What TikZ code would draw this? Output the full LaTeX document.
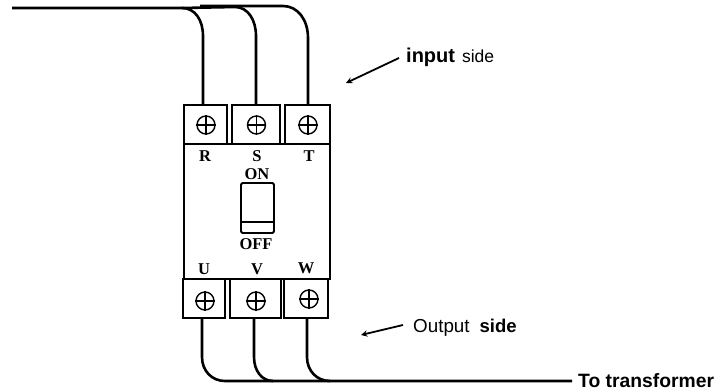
\documentclass[tikz,border=0pt]{standalone}
\usepackage{fontspec}
\setmainfont{Liberation Sans}
\newfontfamily\platefont{Liberation Serif}
\tikzset{
  terminal/.style={draw=black,line width=1.6pt,inner sep=0pt,minimum height=39pt},
  screw/.style={draw=black,circle,line width=1.4pt,inner sep=0pt,minimum size=18pt},
  wire/.style={line width=2.6pt},
  pointer/.style={->,>=stealth,line width=1.8pt},
  plate/.style={font=\platefont\fontsize{16.5}{16.5}\selectfont\bfseries,inner sep=0pt},
  note/.style={inner sep=0pt,anchor=base west}
}
\begin{document}
\begin{tikzpicture}[x=1pt,y=-1pt]
\useasboundingbox (0,0) rectangle (717,390);

% breaker body and switch
\node[draw,line width=1.6pt,minimum width=146pt,minimum height=135pt,inner sep=0pt] (body) at (257,211.5) {};
\node[draw,line width=1.8pt,rounded corners=1.5pt,minimum width=33pt,minimum height=50pt,inner sep=0pt] (switch) at (257.5,208) {};
\coordinate (swl) at (241,222);
\coordinate (swr) at (274,222);
\draw[line width=1.8pt] (swl) -- (swr);

% input terminals
\node[terminal,minimum width=43pt] (termR) at (205.5,124.5) {};
\node[terminal,minimum width=48pt] (termS) at (256,124.5) {};
\node[terminal,minimum width=45pt] (termT) at (307.5,124.5) {};
\node[screw] (screwR) at (206,125) {};
\node[screw] (screwS) at (256.5,125) {};
\node[screw] (screwT) at (308,125) {};

% output terminals
\node[terminal,minimum width=42pt] (termU) at (204,298.5) {};
\node[terminal,minimum width=51pt] (termV) at (255.5,298.5) {};
\node[terminal,minimum width=44pt] (termW) at (306,298.5) {};
\node[screw] (screwU) at (205,301) {};
\node[screw] (screwV) at (256,301) {};
\node[screw] (screwW) at (309,299) {};

\foreach \s in {screwR,screwS,screwT,screwU,screwV,screwW}
  \draw[line width=1.4pt] (\s.north) -- (\s.south) (\s.west) -- (\s.east);

% letters on the plate
\node[plate] (letR) at (205,156) {R};
\node[plate] (letS) at (257,156) {S};
\node[plate] (letT) at (309,156) {T};
\node[plate] (letU) at (204,269) {U};
\node[plate] (letV) at (257,269) {V};
\node[plate] (letW) at (306,268) {W};
\node[plate] (on) at (257,174) {ON};
\node[plate] (off) at (256,244) {OFF};

% input wires
\coordinate (start) at (12,8);
\coordinate (busT) at (200,6);
\coordinate (kneeR) at (182,8);
\coordinate (kneeS) at (235,7);
\coordinate (kneeT) at (283,6);
\coordinate (bendR) at (203,36);
\coordinate (bendS) at (256,36);
\coordinate (bendT) at (308,38);
\draw[wire] (start) -- (kneeR) .. controls +(13,0) and +(0,-16) .. (bendR) -- (bendR |- termR.north);
\draw[wire] (kneeR) -- (kneeS) .. controls +(13,0) and +(0,-16) .. (bendS) -- (bendS |- termS.north);
\draw[wire] (busT) -- (kneeT) .. controls +(15,0) and +(0,-18) .. (bendT) -- (bendT |- termT.north);

% output wires
\node[anchor=base west,inner sep=0pt,font=\fontsize{19.3}{19.3}\selectfont\bfseries] (totrans) at (578,387) {To transformer};
\coordinate (kneeU) at (225,381);
\coordinate (kneeV) at (273,381);
\coordinate (kneeW) at (330,381);
\coordinate (curveU) at (202,357);
\coordinate (curveV) at (254,357);
\coordinate (curveW) at (307,357);
\coordinate (busend) at (572,381);
\draw[wire] (curveU |- termU.south) -- (curveU) .. controls +(0,14) and +(-13,0) .. (kneeU) -- (busend);
\draw[wire] (curveV |- termV.south) -- (curveV) .. controls +(0,14) and +(-11,0) .. (kneeV);
\draw[wire] (curveW |- termW.south) -- (curveW) .. controls +(0,14) and +(-13,0) .. (kneeW);

% side notes
\node[note] (inside) at (406,63) {{\fontsize{20}{20}\selectfont\bfseries input}\hspace{7pt}{\fontsize{17.5}{17.5}\selectfont side}};
\node[note] (outside) at (413,332) {{\fontsize{18.8}{18.8}\selectfont Output}\hspace{10pt}{\fontsize{18.5}{18.5}\selectfont\bfseries side}};
\coordinate (inhead) at (346,83);
\coordinate (inend) at (399,58);
\coordinate (outhead) at (361,335);
\coordinate (outend) at (403,325);
\draw[pointer] (inend) -- (inhead);
\draw[pointer] (outend) -- (outhead);

\end{tikzpicture}
\end{document}
